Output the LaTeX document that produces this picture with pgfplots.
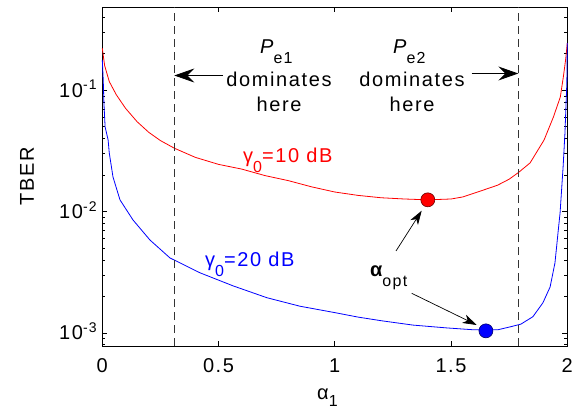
\documentclass[border=0pt]{standalone}
\usepackage{pgfplots}
\pgfplotsset{compat=1.18}
\usepackage{pgfplotstable}
\usepackage{fontspec}
\setmainfont{Liberation Sans}[LetterSpace=8]
\usetikzlibrary{arrows.meta}

\pgfplotstableread{
a v
0 0.222
0.01 0.16
0.03 0.118
0.06 0.092
0.1 0.071
0.15 0.055
0.2 0.045
0.25 0.0385
0.31 0.0333
0.4 0.0280
0.5 0.0245
0.6 0.0224
0.7 0.0198
0.8 0.0180
0.9 0.0160
1.0 0.0145
1.1 0.0136
1.2 0.0130
1.3 0.0127
1.4 0.0125
1.5 0.0127
1.55 0.0132
1.6 0.0142
1.65 0.0153
1.7 0.0165
1.75 0.0185
1.79 0.0210
1.84 0.0252
1.9 0.0389
1.94 0.060
1.97 0.088
1.983 0.129
1.993 0.18
2.0 0.245
}\redtbl

\pgfplotstableread{
a v
0 0.178
0.004 0.122
0.007 0.0785
0.012 0.050
0.025 0.039
0.03 0.0304
0.046 0.0193
0.076 0.0125
0.132 0.00853
0.205 0.00583
0.291 0.00415
0.334 0.00378
0.42 0.00313
0.563 0.00244
0.708 0.00195
0.85 0.00166
1.0 0.00147
1.1 0.00135
1.2 0.00126
1.336 0.00116
1.48 0.00110
1.6 0.00106
1.7 0.00106
1.753 0.00112
1.8 0.00118
1.852 0.00136
1.895 0.00177
1.926 0.00239
1.947 0.00378
1.96 0.00667
1.969 0.0098
1.982 0.0234
1.99 0.0447
1.998 0.115
2.0 0.245
}\bluetbl

\newcommand\sub[1]{\raisebox{-10pt}{\fontsize{16}{16}\selectfont #1}}
\newcommand\subb[1]{\raisebox{-7pt}{\fontsize{16}{16}\selectfont #1}}

\begin{document}
\begin{tikzpicture}[font=\fontsize{20}{24}\selectfont]
\begin{axis}[
  scale only axis, width=465pt, height=338.7pt,
  xmin=0, xmax=2, ymode=log, ymin=7.8e-4, ymax=0.483,
  axis line style={line width=1pt},
  tick align=inside, tick style={black, line width=0.6pt},
  major tick length=5pt, minor tick length=3pt,
  xtick={0,0.5,1,1.5,2}, xticklabels={0,0.5,1,1.5,2},
  ytick={1e-3,1e-2,1e-1},
  yticklabels={10\textsuperscript{-3},10\textsuperscript{-2},10\textsuperscript{-1}},
  minor ytick={8e-4,9e-4,2e-3,3e-3,4e-3,5e-3,6e-3,7e-3,8e-3,9e-3,2e-2,3e-2,4e-2,5e-2,6e-2,7e-2,8e-2,9e-2,0.2,0.3,0.4},
  xticklabel style={anchor=base, inner sep=0pt, yshift=-26pt},
  yticklabel style={anchor=base east, inner sep=0pt, xshift=-5pt, yshift=-7pt},
  clip=false,
]
\addplot[red, line width=0.8pt] table[x=a,y=v]{\redtbl};
\addplot[blue, line width=0.8pt] table[x=a,y=v]{\bluetbl};
\addplot[black!80, line width=0.8pt, dash pattern=on 8pt off 5pt] coordinates {(0.31,7.8e-4) (0.31,0.483)};
\addplot[black!80, line width=0.8pt, dash pattern=on 8pt off 5pt] coordinates {(1.79,7.8e-4) (1.79,0.483)};
\addplot[only marks, mark=*, mark size=7pt, mark options={fill=red, draw=black!60!red, line width=0.6pt}] coordinates {(1.4,0.0125)};
\addplot[only marks, mark=*, mark size=7pt, mark options={fill=blue, draw=black!60!blue, line width=0.6pt}] coordinates {(1.65,0.00104)};
\end{axis}
% annotations (origin = lower-left of axis box)
\node[anchor=base west, inner sep=0pt] at (157.7pt,292pt) {\itshape P\upshape\sub{e1}};
\node[anchor=base, inner sep=0pt] at (176.7pt,259pt) {dominates};
\node[anchor=base, inner sep=0pt] at (176.7pt,234pt) {here};
\draw[black, line width=0.8pt, -{Stealth[length=20pt,width=14pt,inset=7pt]}] (120.7pt,270.5pt) -- (72pt,270.5pt);
\node[anchor=base west, inner sep=0pt] at (290.7pt,292pt) {\itshape P\upshape\sub{e2}};
\node[anchor=base, inner sep=0pt] at (309.7pt,259pt) {dominates};
\node[anchor=base, inner sep=0pt] at (309.7pt,234pt) {here};
\draw[black, line width=0.8pt, -{Stealth[length=20pt,width=14pt,inset=7pt]}] (369.4pt,272.5pt) -- (416pt,272.5pt);
\node[anchor=base west, inner sep=0pt, text=red] at (140.7pt,183pt) {γ\sub{0}=10 dB};
\node[anchor=base west, inner sep=0pt, text=blue] at (102.7pt,79pt) {γ\sub{0}=20 dB};
\node[anchor=base west, inner sep=0pt] at (267.7pt,69pt) {\bfseries α\mdseries\sub{opt}};
\draw[black, line width=0.7pt, -{Stealth[length=14pt,width=9pt,inset=4pt]}] (293.7pt,95pt) -- (319.4pt,135.3pt);
\draw[black, line width=0.7pt, -{Stealth[length=14pt,width=9pt,inset=4pt]}] (309.4pt,52.7pt) -- (374.4pt,21pt);
\node[rotate=90, inner sep=0pt] at (-75.3pt,170pt) {TBER};
\node[anchor=base west, inner sep=0pt] at (214.7pt,-54pt) {α\subb{1}};
\pgfresetboundingbox
\useasboundingbox (-102.3pt,-66pt) rectangle (479.7pt,346pt);
\end{tikzpicture}
\end{document}
